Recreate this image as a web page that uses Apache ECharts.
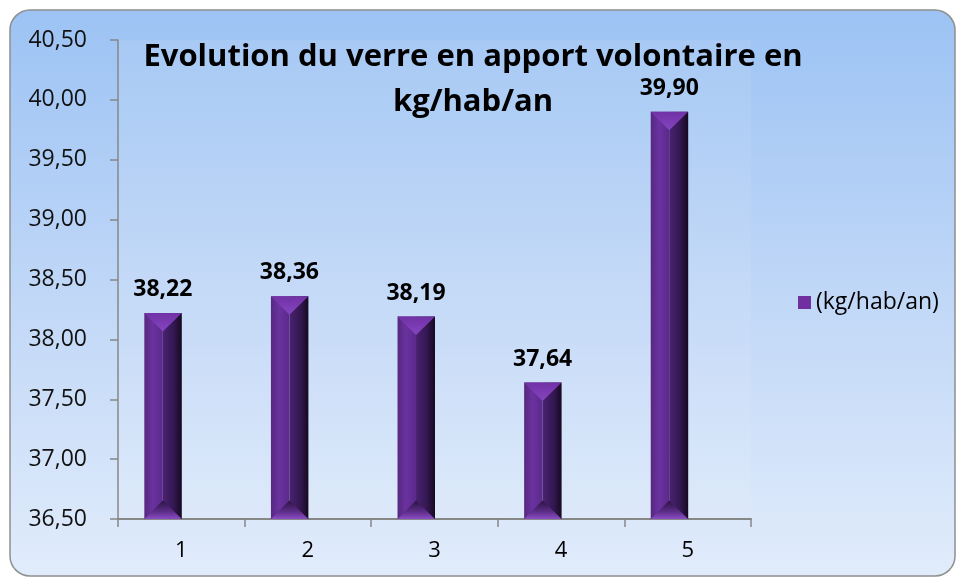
<!DOCTYPE html>
<html>
<head>
<meta charset="utf-8">
<script src="https://cdn.jsdelivr.net/npm/echarts@6/dist/echarts.min.js"></script>
<style>
html, body { margin: 0; padding: 0; background: #fff; }
#chart { width: 957px; height: 578px; }
</style>
</head>
<body>
<div id="chart"></div>
<script>
// données du graphique
var categories = ["1", "2", "3", "4", "5"];
var values = [38.22, 38.36, 38.19, 37.64, 39.90];
var seriesName = "(kg/hab/an)";
var yMin = 36.5;
var yMax = 40.5;
var yStep = 0.5;
var titleText = "Evolution du verre en apport volontaire en\nkg/hab/an";

var FONT = "'Open Sans', sans-serif";

function fmt(v) {
	return v.toFixed(2).replace(".", ",");
}

function grad(x, y, x2, y2, stops) {
	var arr = [];
	for(var i = 0; i < stops.length; i++) {
		arr.push({ offset: stops[i][0], color: stops[i][1] });
	}
	return new echarts.graphic.LinearGradient(x, y, x2, y2, arr);
}

// barre "biseautée" façon Excel
function renderBar(params, api) {
	var idx = api.value(0);
	var val = api.value(1);
	var top = api.coord([idx, val]);
	var base = api.coord([idx, yMin]);
	var band = api.size([1, 0])[0];
	var w = band * 0.292;
	var cx = top[0] - band * 0.146;
	var x0 = cx - w / 2;
	var x1 = cx + w / 2;
	var ty = top[1];
	var by = base[1];
	var bev = w / 2;
	return {
		type: "group",
		children: [{
			type: "rect",
			shape: { x: x0, y: ty, width: w / 2, height: by - ty },
			style: { fill: grad(0, 0, 1, 0, [[0, "#57287f"], [0.45, "#6a32a0"], [1, "#5a2a8a"]]) }
		}, {
			type: "rect",
			shape: { x: cx, y: ty, width: w / 2 + 0.5, height: by - ty },
			style: { fill: grad(0, 0, 1, 0, [[0, "#4a2272"], [0.6, "#32174f"], [1, "#160920"]]) }
		}, {
			type: "polygon",
			shape: { points: [[x0, ty], [x1 + 0.5, ty], [cx, ty + bev]] },
			style: { fill: grad(0, 0, 0, 1, [[0, "#7132a6"], [1, "#8445c0"]]) }
		}, {
			type: "polygon",
			shape: { points: [[x0, by], [x1 + 0.5, by], [cx, by - bev]] },
			style: { fill: grad(0, 0, 0, 1, [[0, "#2a1340"], [0.6, "#5c2d88"], [1, "#8a4cc4"]]) }
		}, {
			type: "text",
			style: {
				text: fmt(val),
				x: cx,
				y: ty - 12,
				align: "center",
				verticalAlign: "bottom",
				font: "bold 23px " + FONT,
				fill: "#000"
			}
		}]
	};
}

var chartData = [];
for(var i = 0; i < values.length; i++) {
	chartData.push([i, values[i]]);
}

var myChart = echarts.init(document.getElementById("chart"));
var option = {
	backgroundColor: "#ffffff",
	animation: false,
	graphic: [{
		type: "rect",
		z: -10,
		silent: true,
		shape: { x: 10, y: 10, width: 945, height: 566, r: 20 },
		style: {
			fill: grad(0, 0, 0, 1, [[0, "#9cc3f4"], [0.5, "#c0d7f7"], [1, "#e1ecfb"]]),
			stroke: "#8f8f8f",
			lineWidth: 1.5
		}
	}],
	title: {
		text: titleText,
		left: 468,
		top: 30,
		textAlign: "center",
		textStyle: {
			fontFamily: FONT,
			fontSize: 31,
			fontWeight: "bold",
			lineHeight: 45,
			color: "#000"
		}
	},
	legend: {
		data: [{ name: seriesName, icon: "rect" }],
		left: 793,
		top: 286,
		itemWidth: 13,
		itemHeight: 13,
		textStyle: { fontFamily: FONT, fontSize: 23, color: "#000" }
	},
	grid: {
		left: 118,
		right: 206,
		top: 40,
		bottom: 59,
		show: true,
		borderWidth: 0,
		backgroundColor: "rgba(255,255,255,0.08)"
	},
	xAxis: {
		type: "category",
		data: categories,
		boundaryGap: true,
		axisLine: { lineStyle: { color: "#878787", width: 2 } },
		axisTick: { show: true, length: 8, alignWithLabel: false, lineStyle: { color: "#878787", width: 1.5 } },
		axisLabel: { margin: 21, fontFamily: FONT, fontSize: 22, color: "#000" }
	},
	yAxis: {
		type: "value",
		min: yMin,
		max: yMax,
		interval: yStep,
		axisLine: { show: true, lineStyle: { color: "#878787", width: 1.5 } },
		axisTick: { show: true, length: 8, lineStyle: { color: "#878787", width: 1.5 } },
		splitLine: { show: false },
		axisLabel: {
			margin: 31,
			fontFamily: FONT,
			fontSize: 23,
			color: "#111",
			formatter: function(v) { return fmt(v); }
		}
	},
	series: [{
		name: seriesName,
		type: "custom",
		renderItem: renderBar,
		itemStyle: { color: "#7030a0" },
		encode: { x: 0, y: 1 },
		data: chartData
	}]
};
myChart.setOption(option);
</script>
</body>
</html>
